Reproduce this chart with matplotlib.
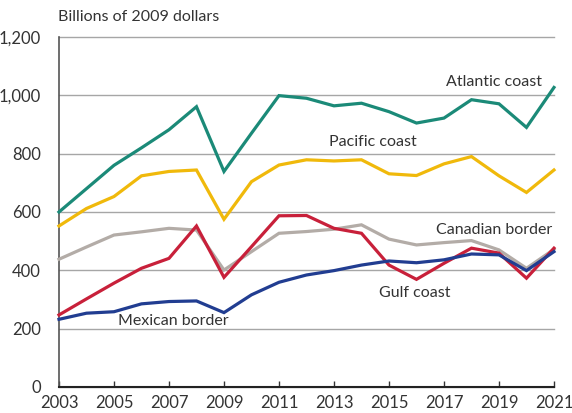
import numpy as np
import matplotlib
matplotlib.use("Agg")
import matplotlib.pyplot as plt

# ---------------------------------------------------------------------------
# Data (billions of 2009 dollars)
# ---------------------------------------------------------------------------
years = list(range(2003, 2022))

atlantic = [600, 680, 760, 820, 882, 961, 739, 870, 999, 990, 964, 973,
            944, 905, 922, 985, 971, 890, 1027]
pacific = [552, 612, 653, 724, 739, 744, 575, 704, 761, 779, 775, 779,
           731, 725, 765, 790, 724, 667, 744]
canadian = [438, 480, 521, 532, 544, 538, 401, 464, 527, 533, 541, 556,
            507, 487, 495, 502, 470, 407, 472]
gulf = [247, 302, 356, 407, 441, 552, 376, 481, 587, 588, 544, 527,
        418, 369, 424, 476, 459, 373, 476]
mexican = [232, 253, 258, 285, 293, 295, 255, 316, 359, 384, 399, 418,
           432, 426, 436, 456, 453, 399, 464]

y_ticks = [0, 200, 400, 600, 800, 1000, 1200]
x_ticks = list(range(2003, 2022, 2))

# ---------------------------------------------------------------------------
# Figure
# ---------------------------------------------------------------------------
plt.rcParams['font.family'] = ['Lato', 'DejaVu Sans']
text_col = '#333333'

fig = plt.figure(figsize=(5.72, 4.13), dpi=100)
ax = fig.add_axes([0.1031, 0.063, 0.8654, 0.8474])

series = [
    (canadian, '#b3aca7'),
    (pacific, '#f0b90b'),
    (atlantic, '#1b8a78'),
    (gulf, '#c8203a'),
    (mexican, '#213d91'),
]
for vals, col in series:
    ax.plot(years, vals, color=col, linewidth=2.3, solid_joinstyle='miter',
            clip_on=False, zorder=3)

ax.set_xlim(2003, 2021)
ax.set_ylim(0, 1200)
ax.set_yticks(y_ticks)
ax.set_yticklabels([f"{v:,}" for v in y_ticks])
ax.set_xticks(x_ticks)
ax.set_xticklabels([str(v) for v in x_ticks])

ax.grid(axis='y', color='#a6a6a6', linewidth=1.0, zorder=0)
for g in ax.get_ygridlines():
    g.set_clip_on(False)
ax.tick_params(axis='y', length=0, pad=13, labelsize=12, labelcolor=text_col)
ax.tick_params(axis='x', direction='in', length=4, width=1, color='#333333',
               pad=6, labelsize=12, labelcolor=text_col)

for s in ['top', 'right']:
    ax.spines[s].set_visible(False)
ax.spines['left'].set_color('#555555')
ax.spines['bottom'].set_color('#222222')
ax.spines['left'].set_linewidth(1.2)
ax.spines['bottom'].set_linewidth(1.5)

fig.text(0.101, 0.958, "Billions of 2009 dollars", fontsize=11.5,
         color=text_col, ha='left', va='center')

lab = dict(fontsize=11.5, color=text_col, va='center')
ax.text(2020.55, 1047, "Atlantic coast", ha='right', **lab)
ax.text(2012.82, 840, "Pacific coast", ha='left', **lab)
ax.text(2020.92, 539, "Canadian border", ha='right', **lab)
ax.text(2014.64, 323, "Gulf coast", ha='left', **lab)
ax.text(2005.15, 227, "Mexican border", ha='left', **lab)

fig.savefig("out.png", dpi=100)
